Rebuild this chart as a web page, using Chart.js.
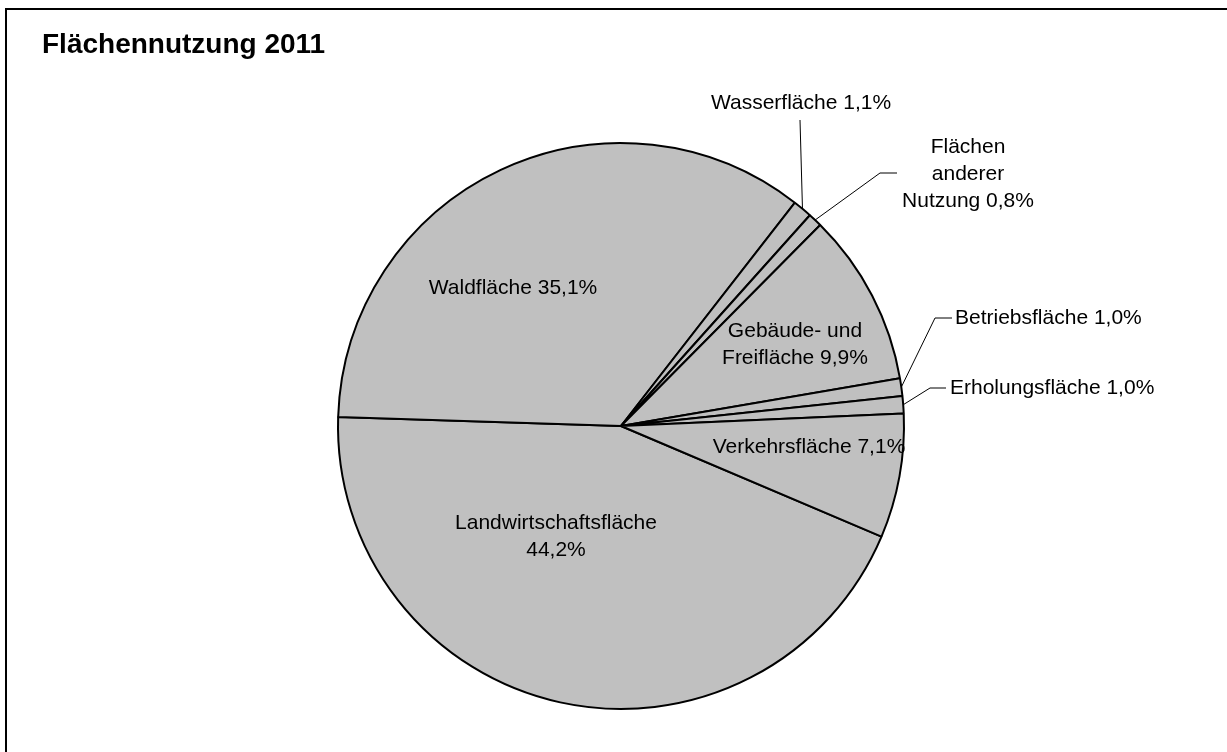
<!DOCTYPE html>
<html>
<head>
<meta charset="utf-8">
<script src="https://cdn.jsdelivr.net/npm/chart.js@4.4.0/dist/chart.umd.min.js"></script>
<style>
    body { margin: 0; background: #fff; }
    canvas { display: block; }
</style>
</head>
<body>
<canvas id="chart" width="1227" height="752"></canvas>
<script>
const CHART_TITLE = 'Flächennutzung 2011';
const categories = [
    'Landwirtschaftsfläche', 'Waldfläche', 'Wasserfläche', 'Flächen anderer Nutzung',
    'Gebäude- und Freifläche', 'Betriebsfläche', 'Erholungsfläche', 'Verkehrsfläche'
];
const shares = [44.2, 35.1, 1.1, 0.8, 9.9, 1.0, 1.0, 7.1];
// text lines of each label
const labelLines = [
    ['Landwirtschaftsfläche', '44,2%'],
    ['Waldfläche 35,1%'],
    ['Wasserfläche 1,1%'],
    ['Flächen', 'anderer', 'Nutzung 0,8%'],
    ['Gebäude- und', 'Freifläche 9,9%'],
    ['Betriebsfläche 1,0%'],
    ['Erholungsfläche 1,0%'],
    ['Verkehrsfläche 7,1%']
];

const FONT = '"Liberation Sans", Arial, Helvetica, sans-serif';
const LINE_H = 27;

// label placement, offsets from the pie centre (px)
// leader: list of points after the arc edge
const labelLayout = [
    { dx: -65, dy: 111, align: 'center' },
    { dx: -108, dy: -138, align: 'center' },
    { dx: 180, dy: -323, align: 'center', leader: [[179, -306]] },
    { dx: 347, dy: -252, align: 'center', leader: [[259, -253], [276, -253]] },
    { dx: 174, dy: -81, align: 'center' },
    { dx: 334, dy: -108, align: 'left', leader: [[314, -108], [331, -108]] },
    { dx: 329, dy: -38, align: 'left', leader: [[309, -38], [325, -38]] },
    { dx: 188, dy: 21, align: 'center' }
];

const labelPlugin = {
    id: 'pieLabels',
    beforeDraw(chart) {
        const ctx = chart.ctx;
        ctx.save();
        ctx.fillStyle = '#fff';
        ctx.fillRect(0, 0, chart.width, chart.height);
        // frame
        ctx.strokeStyle = '#000';
        ctx.lineWidth = 2;
        ctx.beginPath();
        ctx.moveTo(6, chart.height + 5);
        ctx.lineTo(6, 9);
        ctx.lineTo(chart.width + 5, 9);
        ctx.stroke();
        // title
        ctx.fillStyle = '#000';
        ctx.font = 'bold 28px ' + FONT;
        ctx.textAlign = 'left';
        ctx.textBaseline = 'alphabetic';
        ctx.fillText(CHART_TITLE, 42, 53);
        ctx.restore();
    },
    afterDatasetsDraw(chart) {
        const ctx = chart.ctx;
        const arcs = chart.getDatasetMeta(0).data;
        ctx.save();
        ctx.fillStyle = '#000';
        ctx.strokeStyle = '#000';
        ctx.font = '21px ' + FONT;
        ctx.textBaseline = 'middle';
        arcs.forEach((arc, i) => {
            const cx = arc.x, cy = arc.y;
            const lay = labelLayout[i];
            if (lay.leader) {
                const mid = (arc.startAngle + arc.endAngle) / 2;
                ctx.lineWidth = 1;
                ctx.beginPath();
                ctx.moveTo(cx + Math.cos(mid) * arc.outerRadius, cy + Math.sin(mid) * arc.outerRadius);
                lay.leader.forEach(p => ctx.lineTo(cx + p[0], cy + p[1]));
                ctx.stroke();
            }
            const lines = labelLines[i];
            ctx.textAlign = lay.align;
            const top = cy + lay.dy - (lines.length - 1) * LINE_H / 2;
            lines.forEach((t, k) => ctx.fillText(t, cx + lay.dx, top + k * LINE_H));
        });
        ctx.restore();
    }
};

new Chart(document.getElementById('chart'), {
    type: 'pie',
    data: {
        labels: categories,
        datasets: [{
            data: shares,
            backgroundColor: '#c0c0c0',
            borderColor: '#000',
            borderWidth: 2,
            hoverOffset: 0,
            offset: 0
        }]
    },
    options: {
        responsive: false,
        devicePixelRatio: 1,
        animation: false,
        rotation: 113,
        layout: { padding: { left: 337, right: 322, top: 142, bottom: 42 } },
        plugins: {
            legend: { display: false },
            title: { display: false },
            tooltip: { enabled: false }
        }
    },
    plugins: [labelPlugin]
});
</script>
</body>
</html>
